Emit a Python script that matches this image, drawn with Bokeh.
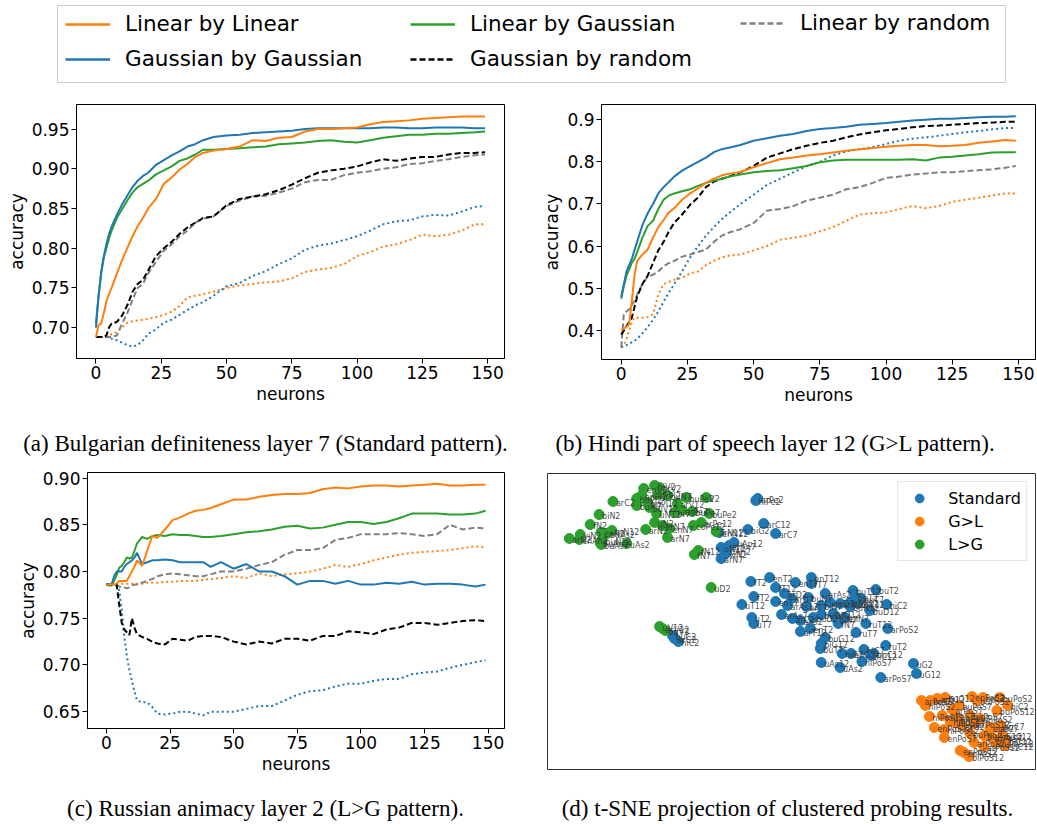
from bokeh.plotting import figure
from bokeh.models import (ColumnDataSource, Legend, LegendItem, FixedTicker,
                          NumeralTickFormatter, Range1d)
from bokeh.layouts import column, row
from bokeh.core.properties import value
from bokeh.embed import file_html
from bokeh.resources import INLINE

# ---------------- data ----------------
x_ticks = [0, 25, 50, 75, 100, 125, 150]

# panels (a) and (b): neurons sampled
x_ab = [0, 1, 2, 3, 4, 5, 6, 8, 10, 12, 14, 16, 18, 20, 23, 26, 29, 32, 35, 38, 41, 45,
        50, 55, 60, 65, 70, 75, 80, 85, 90, 95, 100, 105, 110, 115, 120, 125, 130, 135, 140, 145, 149]

# (a) Bulgarian definiteness layer 7
a_lin_lin = [.688, .703, .705, .718, .733, .742, .750, .768, .785, .800, .815, .828, .838, .850,
             .862, .881, .889, .899, .906, .915, .920, .923,
             .925, .928, .936, .935, .939, .940, .947, .950, .950, .951, .952, .956, .959, .960,
             .961, .963, .964, .965, .966, .966, .966]
a_gau_gau = [.700, .740, .770, .790, .805, .818, .827, .842, .855, .866, .877, .885, .891, .895,
             .905, .911, .917, .922, .928, .931, .936, .940,
             .942, .943, .945, .946, .947, .948, .950, .951, .951, .951, .951, .951, .952, .952,
             .951, .951, .952, .952, .952, .951, .951]
a_lin_gau = [.705, .740, .768, .788, .800, .812, .822, .838, .849, .860, .870, .877, .881, .885,
             .893, .898, .903, .910, .913, .918, .924, .924,
             .925, .926, .927, .928, .931, .932, .933, .935, .936, .934, .933, .936, .939, .941,
             .943, .943, .944, .944, .945, .946, .947]
a_gau_rand = [.688, .688, .688, .688, .690, .700, .705, .707, .715, .728, .745, .755, .760, .772,
              .790, .800, .808, .818, .826, .832, .838, .840,
              .854, .862, .865, .868, .873, .880, .888, .895, .898, .900, .903, .908, .912, .910,
              .913, .915, .915, .918, .920, .920, .921]
a_lin_rand = [.688, .688, .688, .688, .688, .688, .688, .690, .705, .718, .735, .750, .755, .768,
              .783, .797, .805, .815, .822, .832, .837, .840,
              .853, .860, .865, .866, .870, .875, .883, .886, .886, .892, .895, .897, .900, .902,
              .906, .907, .910, .912, .915, .917, .918]
a_lin_dot = [.688, .688, .688, .688, .688, .689, .692, .694, .700, .706, .708, .709, .710, .711,
             .713, .716, .720, .727, .738, .740, .742, .745,
             .750, .753, .755, .757, .758, .762, .770, .773, .775, .780, .790, .795, .802, .805,
             .810, .817, .815, .817, .822, .830, .830]
a_gau_dot = [.688, .688, .688, .688, .688, .687, .686, .684, .681, .678, .676, .678, .684, .692,
             .698, .706, .710, .716, .722, .728, .732, .740,
             .752, .756, .765, .771, .780, .787, .798, .803, .806, .810, .815, .822, .830, .834,
             .835, .840, .842, .841, .846, .852, .853]

# (b) Hindi part of speech layer 12
b_lin_lin = [.400, .405, .408, .415, .470, .530, .565, .580, .592, .620, .645, .662, .680, .690,
             .710, .725, .737, .750, .760, .768, .772, .776,
             .787, .797, .806, .810, .815, .818, .822, .826, .830, .833, .836, .838, .840, .840,
             .837, .838, .840, .845, .848, .852, .850]
b_gau_gau = [.480, .510, .540, .555, .570, .590, .610, .650, .678, .700, .725, .740, .752, .765,
             .779, .790, .800, .810, .823, .830, .834, .840,
             .850, .856, .862, .866, .873, .878, .880, .883, .888, .890, .892, .895, .898, .900,
             .902, .902, .904, .906, .907, .907, .908]
b_lin_gau = [.475, .505, .530, .545, .560, .570, .585, .620, .648, .660, .688, .710, .720, .725,
             .730, .735, .743, .750, .755, .760, .765, .770,
             .775, .778, .780, .785, .790, .799, .803, .805, .805, .805, .805, .805, .806, .803,
             .810, .812, .815, .818, .822, .823, .823]
b_gau_rand = [.390, .400, .410, .420, .430, .455, .480, .510, .530, .560, .590, .610, .635, .655,
              .675, .698, .715, .740, .753, .760, .766, .775,
              .790, .810, .820, .830, .838, .845, .850, .858, .865, .870, .875, .878, .882, .885,
              .886, .888, .890, .892, .893, .895, .895]
b_lin_rand = [.360, .440, .445, .450, .460, .470, .485, .510, .528, .532, .540, .552, .560, .565,
              .575, .580, .586, .592, .610, .625, .633, .640,
              .655, .684, .688, .695, .708, .715, .722, .735, .740, .750, .762, .765, .770, .772,
              .775, .775, .778, .780, .782, .786, .790]
b_lin_dot = [.360, .365, .380, .400, .420, .430, .430, .430, .432, .438, .485, .510, .515, .520,
             .525, .535, .540, .555, .565, .573, .578, .580,
             .590, .600, .615, .620, .625, .635, .645, .660, .675, .678, .680, .688, .695, .690,
             .695, .705, .710, .715, .720, .725, .725]
b_gau_dot = [.360, .362, .365, .368, .372, .375, .380, .393, .408, .425, .445, .468, .490, .510,
             .540, .573, .600, .625, .645, .664, .680, .700,
             .722, .745, .760, .775, .790, .800, .815, .825, .830, .835, .842, .850, .855, .858,
             .862, .866, .870, .873, .877, .880, .880]

# (c) Russian animacy layer 2
x_c = [0, 1, 2, 3, 4, 5, 6, 7, 8, 9, 10, 11, 12, 14, 16, 18, 20, 23, 26, 29, 32, 35, 38, 41, 45,
       50, 55, 60, 65, 70, 75, 80, 85, 90, 95, 100, 105, 110, 115, 120, 125, 130, 135, 140, 145, 149]
c_lin_lin = [.786, .786, .786, .786, .787, .790, .790, .790, .790, .795, .800, .805, .812,
             .806, .822, .838, .836, .845, .855, .858, .862, .865, .866, .868, .872,
             .877, .877, .880, .882, .883, .883, .884, .888, .890, .889, .891, .892, .892, .891,
             .892, .893, .894, .892, .892, .893, .893]
c_gau_gau = [.786, .786, .786, .795, .800, .800, .800, .805, .808, .810, .812, .815, .820,
             .808, .810, .812, .812, .813, .812, .810, .810, .810, .810, .805, .810,
             .803, .808, .800, .800, .795, .786, .790, .790, .787, .790, .786, .786, .788, .787,
             .789, .786, .787, .787, .786, .784, .786]
c_lin_gau = [.786, .785, .785, .790, .796, .804, .806, .810, .815, .814, .815, .822, .830,
             .837, .835, .838, .839, .838, .840, .839, .839, .838, .837, .837, .838,
             .840, .842, .843, .845, .848, .849, .846, .847, .850, .853, .853, .851, .853, .857,
             .862, .862, .862, .861, .861, .862, .865]
c_gau_rand = [.786, .786, .786, .786, .786, .765, .745, .738, .735, .732, .750, .740, .733,
              .730, .728, .725, .723, .722, .728, .727, .726, .730, .731, .731, .730,
              .725, .722, .725, .723, .728, .728, .726, .731, .731, .736, .735, .733, .738, .740,
              .745, .745, .743, .745, .747, .748, .747]
c_lin_rand = [.786, .786, .786, .785, .785, .784, .783, .783, .782, .783, .785, .786, .786,
              .788, .790, .792, .795, .797, .798, .797, .796, .795, .795, .797, .800,
              .800, .803, .807, .810, .818, .823, .823, .825, .834, .836, .840, .840, .840, .841,
              .840, .838, .840, .850, .845, .847, .846]
c_lin_dot = [.786, .786, .787, .787, .787, .787, .787, .787, .787, .787, .787, .787, .787,
             .787, .788, .788, .788, .789, .789, .790, .790, .790, .791, .792, .793,
             .795, .793, .798, .795, .797, .798, .800, .803, .807, .805, .808, .812, .815, .818,
             .820, .821, .822, .823, .825, .827, .826]
c_gau_dot = [.786, .786, .786, .786, .786, .780, .760, .730, .710, .695, .683, .672, .662,
             .660, .660, .655, .648, .647, .648, .650, .650, .648, .646, .650, .650,
             .650, .653, .656, .656, .662, .668, .672, .673, .677, .680, .680, .683, .685, .685,
             .690, .692, .693, .697, .700, .703, .705]

# (d) t-SNE projection
std_x = [-3.3, -3.1, -4.1, -2.5, -1.3, -7.0, -6.8, -6.2, -5.5, -6.0, -6.3, -6.8, -3.8, -1.9, 0.7,
         2.3, 2.3, -1.3, -0.4, -3.5, -4.7, -1.3, 0.3, -0.1, 2.0, 1.8, 3.3, 3.7, 6.5, 8.8, 5.2, 6.2,
         7.3, 9.9, 8.2, -3.7, -3.5, -0.7, 0.4, 1.2, 3.3, 4.5, 4.8, 5.0, 5.7, 1.2, 2.2, 7.8, 6.8,
         10.0, 3.7, 3.3, 3.2, 5.4, 6.3, 7.6, 7.4, 8.3, 9.8, 3.3, 5.2, 12.6, 12.9, 9.3, -11.7,
         -11.1, -11.5, 6.7, 2.5, 8.6, 6.2, 4.2, 7.0]
std_y = [12.0, 12.2, 9.1, 9.7, 8.7, 8.8, 7.3, 7.0, 7.8, 7.5, 6.7, 6.2, 3.9, 4.3, 3.8,
         4.3, 3.7, 3.3, 2.7, 2.4, 1.6, 1.9, 2.2, 1.5, 2.3, 1.4, 1.5, 2.7, 3.0, 3.1, 1.7, 1.4,
         2.2, 1.6, 1.0, 0.3, -0.3, 0.6, 0.2, 0.0, 0.6, 0.7, 0.2, -0.3, 0.3, -1.1, -0.8, -0.3, -1.2,
         -0.8, -1.7, -2.3, -2.8, -3.3, -3.3, -2.9, -4.1, -3.5, -2.5, -4.2, -4.7, -4.3, -5.3, -5.7, -1.5,
         -2.1, -1.8, 2.4, 0.3, -3.3, 1.8, 1.8, 1.7]
std_lbl = ["hiPe2", "arPe2", "biG2", "arC12", "arC7", "enN12", "uN12", "uAn2", "uAp12", "arAn7",
           "viN2", "arN7", "fT2", "enT2", "enT7", "enT12", "fT7", "fT12", "arD2", "fT2", "uT12",
           "enT7", "arD7", "arAs12", "buN7", "arT7", "biN7", "arAs2", "buT12", "buT2", "arN12",
           "buN12", "buT7", "hiC2", "buD12", "uT2", "uT7", "arAs7", "arC2", "arG2", "buD7",
           "arD12", "biN7", "fN7", "enN7", "arT12", "enT2", "ruT12", "ruT7", "arPoS2", "buG12",
           "biG12", "buT7", "hiG7", "enG2", "hiC7", "hiPoS7", "hiC12", "ruT2", "uAs12", "uAs2",
           "uG2", "uG12", "arPoS7", "buC2", "hiC2", "arC2", "buT2", "buD2", "buC12", "enN12",
           "enD7", "biN12"]

gl_x = [13.4, 13.8, 14.3, 15.0, 15.8, 18.5, 19.0, 19.6, 21.3, 22.1, 21.0, 17.2, 14.2, 15.5, 16.5,
        17.0, 18.3, 19.3, 16.8, 17.5, 18.7, 14.7, 15.7, 15.7, 21.0, 21.4, 19.7, 20.5, 21.6, 21.9,
        18.7, 20.9, 19.7, 17.7, 18.2, 17.3, 21.8, 18.3, 16.3, 20.3]
gl_y = [-8.0, -8.5, -8.0, -7.8, -7.7, -7.6, -8.0, -7.7, -7.7, -8.5, -9.0, -8.5, -9.6, -9.5, -8.9,
        -9.7, -9.5, -9.8, -10.2, -10.5, -10.3, -10.7, -10.9, -11.7, -10.7, -10.5, -11.5, -11.7,
        -11.5, -12.0, -12.2, -12.2, -12.6, -13.2, -13.6, -13.0, -12.5, -11.3, -10.1, -10.7]
gl_lbl = ["arPoS2", "hiPoS2", "buG7", "arG12", "buG12", "enPoS2", "buPoS2", "arC2", "buPoS2",
          "hiC2", "buPoS12", "buPoS7", "hiPoS12", "enPoS2", "arPoS7", "enPoS7", "buPoS7",
          "enPoS2", "hiPoS7", "arG2", "arPoS12", "enPoS12", "hiPoS12", "enPoS7", "arC7", "buC7",
          "buPoS12", "arPoS7", "buC12", "hiC12", "arPoS2", "buPoS12", "arPoS12", "enPoS2",
          "biPoS12", "enPoS12", "enC12", "buPoS2", "hiPoS2", "enG7"]

lg_x = [-22.1, -21.1, -21.0, -20.0, -19.1, -17.7, -18.9, -18.8, -18.3, -18.9, -17.8, -16.3, -14.6,
        -13.5, -13.0, -15.3, -15.3, -14.0, -13.2, -12.2, -11.2, -10.3, -9.7, -8.3, -8.0, -9.6,
        -8.8, -13.3, -13.5, -14.4, -12.7, -12.0, -12.2, -7.3, -9.1, -9.5, -7.8, -13.0, -12.7,
        -12.4, -14.2, -11.5, -10.7, -14.8, -19.0]
lg_y = [8.2, 8.1, 8.6, 9.6, 10.6, 11.9, 7.6, 8.0, 8.7, 8.8, 9.0, 7.7, 13.2,
        13.5, 13.3, 12.2, 11.5, 11.3, 12.6, 12.5, 11.7, 12.3, 10.9, 12.3, 10.7, 9.5,
        9.8, 10.7, 9.8, 9.1, 9.5, 9.2, 8.3, 8.9, 7.0, 6.6, 3.3, -0.6, -0.8,
        -1.0, 11.8, 10.8, 11.0, 12.5, 7.8]
lg_lbl = ["arN2", "enAn2", "viN2", "fN2", "biN2", "arC2", "buAs7", "buN12", "buAs2", "enN2",
          "arN12", "uAs2", "enV2", "hiV2", "arV2", "buPl2", "buPl7", "buV12", "arPl2", "buN7",
          "arV12", "buPe2", "buPe7", "V2", "buPe2", "coPe12", "arPe12", "uN12", "uN2", "arN2",
          "arN7", "enN7", "arN7", "arN12", "fN12", "fN7", "uD2", "uV12", "arV12", "buV2",
          "buPl12", "biV7", "arPe7", "enPl2", "buAn2"]

legend_labels = ["Linear by Linear", "Gaussian by Gaussian", "Linear by Gaussian",
                 "Gaussian by random", "Linear by random"]
captions = ["(a) Bulgarian definiteness layer 7 (Standard pattern).",
            "(b) Hindi part of speech layer 12 (G>L pattern).",
            "(c) Russian animacy layer 2 (L>G pattern).",
            "(d) t-SNE projection of clustered probing results."]

# ---------------- styles ----------------
ORANGE, BLUE, GREEN, BLACK, GRAY = "#ff7f0e", "#1f77b4", "#2ca02c", "#000000", "#808080"
FONT = "DejaVu Sans"
SERIF = "Liberation Serif"


def style_axes(p):
    for ax in p.axis:
        ax.axis_line_color = "black"
        ax.major_tick_line_color = "black"
        ax.major_tick_out = 5
        ax.major_tick_in = 0
        ax.minor_tick_line_color = None
        ax.major_label_text_font = FONT
        ax.major_label_text_font_size = "17px"
        ax.major_label_text_color = "black"
        ax.axis_label_text_font = FONT
        ax.axis_label_text_font_size = "17px"
        ax.axis_label_text_font_style = "normal"
        ax.axis_label_text_color = "black"
        ax.major_label_standoff = 2
        ax.axis_label_standoff = 2


def caption_fig(text, w, h, cx, cy):
    # caption strip: ranges are in pixels of the strip
    c = figure(width=w, height=h, min_border=0, x_range=Range1d(0, w), y_range=Range1d(0, h),
               x_axis_location=None, y_axis_location=None, toolbar_location=None,
               output_backend="svg")
    c.title.visible = False
    c.grid.visible = False
    c.outline_line_color = None
    c.text(x=[cx], y=[cy], text=[text], text_font=value(SERIF),
           text_font_size=value("23px"), text_color="black",
           text_align="center", text_baseline="middle")
    return row(c)


def line_panel(xs, series, yr, yticks, yfmt, w, h, bl, br, bt, bb):
    (lin_lin, gau_gau, lin_gau, gau_rand, lin_rand, lin_dot, gau_dot) = series
    p = figure(width=w, height=h, min_border_left=bl, min_border_right=br,
               min_border_top=bt, min_border_bottom=bb,
               x_range=Range1d(-7.45, 156.45), y_range=Range1d(*yr),
               toolbar_location=None, output_backend="svg")
    p.title.visible = False
    p.grid.visible = False
    p.outline_line_color = "black"
    p.outline_line_alpha = 1
    p.background_fill_color = "white"
    p.border_fill_color = "white"
    p.line(xs, lin_dot, line_color=ORANGE, line_width=2, line_dash="2 3")
    p.line(xs, gau_dot, line_color=BLUE, line_width=2, line_dash="2 3")
    p.line(xs, lin_rand, line_color=GRAY, line_width=2, line_dash="6 3")
    p.line(xs, gau_rand, line_color=BLACK, line_width=2, line_dash="6 3")
    p.line(xs, lin_gau, line_color=GREEN, line_width=2)
    p.line(xs, gau_gau, line_color=BLUE, line_width=2)
    p.line(xs, lin_lin, line_color=ORANGE, line_width=2)
    p.xaxis.ticker = FixedTicker(ticks=x_ticks)
    p.xaxis.formatter = NumeralTickFormatter(format="0")
    p.yaxis.ticker = FixedTicker(ticks=yticks)
    p.yaxis.formatter = NumeralTickFormatter(format=yfmt)
    p.xaxis.axis_label = "neurons"
    p.yaxis.axis_label = "accuracy"
    style_axes(p)
    return p


# ---------------- top legend ----------------
lf = figure(width=1036, height=90, min_border_left=57, min_border_right=31,
            min_border_top=5, min_border_bottom=8, x_range=Range1d(0, 1), y_range=Range1d(0, 1),
            x_axis_location=None, y_axis_location=None, toolbar_location=None,
            output_backend="svg")
lf.title.visible = False
lf.grid.visible = False
lf.outline_line_color = "#cccccc"
lf.outline_line_width = 1
lf.border_fill_color = "white"

leg_styles = [(ORANGE, "solid"), (BLUE, "solid"), (GREEN, "solid"), (BLACK, "6 3"), (GRAY, "6 3")]
items = []
for lbl, (col, dash) in zip(legend_labels, leg_styles):
    # legend proxy line, kept outside the visible range
    r = lf.line(x=[-2, -1], y=[-2, -2], line_color=col, line_width=2.5, line_dash=dash)
    items.append(LegendItem(label=lbl, renderers=[r]))

for grp, loc in ((items[0:2], (8, 11)), (items[2:4], (353, 11)), (items[4:5], (683, 47))):
    lg = Legend(items=grp, location=loc, orientation="vertical",
                glyph_width=45, glyph_height=20, label_standoff=15, spacing=10,
                padding=0, margin=0, border_line_color=None, background_fill_alpha=0,
                label_text_font=FONT, label_text_font_size="21.5px", label_text_color="black")
    lf.add_layout(lg)

# ---------------- panels ----------------
fa = line_panel(x_ab, (a_lin_lin, a_gau_gau, a_lin_gau, a_gau_rand, a_lin_rand, a_lin_dot, a_gau_dot),
                (0.661, 0.981), [0.70, 0.75, 0.80, 0.85, 0.90, 0.95], "0.00",
                530, 335, 76, 26, 14, 67)
fb = line_panel(x_ab, (b_lin_lin, b_gau_gau, b_lin_gau, b_gau_rand, b_lin_rand, b_lin_dot, b_gau_dot),
                (0.331, 0.936), [0.4, 0.5, 0.6, 0.7, 0.8, 0.9], "0.0",
                506, 335, 71, 1, 14, 66)
fc = line_panel(x_c, (c_lin_lin, c_gau_gau, c_lin_gau, c_gau_rand, c_lin_rand, c_lin_dot, c_gau_dot),
                (0.632, 0.906), [0.65, 0.70, 0.75, 0.80, 0.85, 0.90], "0.00",
                530, 330, 87, 26, 12, 62)

fd = figure(width=506, height=330, min_border_left=17, min_border_right=1,
            min_border_top=13, min_border_bottom=21,
            x_range=Range1d(-24.3, 24.9), y_range=Range1d(-14.9, 14.7),
            x_axis_location=None, y_axis_location=None, toolbar_location=None,
            output_backend="svg")
fd.title.visible = False
fd.grid.visible = False
fd.outline_line_color = "#333333"
fd.border_fill_color = "white"
src_std = ColumnDataSource(dict(x=std_x, y=std_y, label=std_lbl))
src_gl = ColumnDataSource(dict(x=gl_x, y=gl_y, label=gl_lbl))
src_lg = ColumnDataSource(dict(x=lg_x, y=lg_y, label=lg_lbl))
r_std = fd.scatter("x", "y", source=src_std, size=10, fill_color=BLUE, line_color=BLUE)
r_gl = fd.scatter("x", "y", source=src_gl, size=10, fill_color=ORANGE, line_color=ORANGE)
r_lg = fd.scatter("x", "y", source=src_lg, size=10, fill_color=GREEN, line_color=GREEN)
for src in (src_std, src_gl, src_lg):
    fd.text("x", "y", text="label", source=src, text_font=value(FONT),
            text_font_size=value("8px"), text_color="#333333", text_alpha=0.9,
            x_offset=3, y_offset=2, text_baseline="alphabetic", text_align="left")
dleg = Legend(items=[LegendItem(label="Standard", renderers=[r_std]),
                     LegendItem(label="G>L", renderers=[r_gl]),
                     LegendItem(label="L>G", renderers=[r_lg])],
              location="top_right", margin=8, padding=5, spacing=1,
              glyph_width=32, glyph_height=22, label_standoff=13,
              label_text_font=FONT, label_text_font_size="16px", label_text_color="black",
              border_line_color="#cccccc", border_line_width=1, background_fill_alpha=0.8)
fd.add_layout(dleg)

cap_a = caption_fig(captions[0], 530, 35, 265, 17)
cap_b = caption_fig(captions[1], 506, 35, 245, 17)
cap_c = caption_fig(captions[2], 530, 32, 265, 14)
cap_d = caption_fig(captions[3], 506, 32, 257, 14)

layout = column(lf,
                row(column(fa, cap_a), column(fb, cap_b)),
                row(column(fc, cap_c), column(fd, cap_d)))
open("out.html", "w").write(file_html(layout, INLINE))
